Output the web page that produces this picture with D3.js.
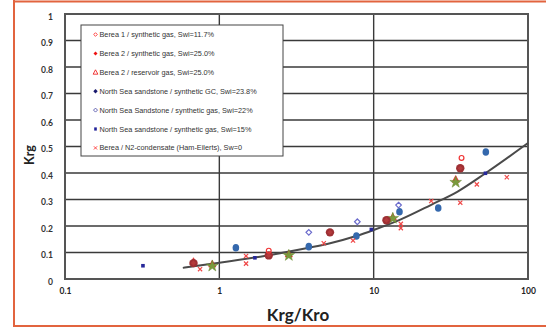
<!DOCTYPE html>
<html><head><meta charset="utf-8">
<script src="https://cdn.jsdelivr.net/npm/d3@7"></script>
<style>body{margin:0;background:#fff}svg{display:block}</style>
</head><body><svg id="c" width="546" height="329"></svg>
<script>
const xTicks = [0.1, 1, 10, 100];
const xTickLabels = ["0.1", "1", "10", "100"];
const yTicks = [0, 0.1, 0.2, 0.3, 0.4, 0.5, 0.6, 0.7, 0.8, 0.9, 1];
const yTickLabels = ["0", "0.1", "0.2", "0.3", "0.4", "0.5", "0.6", "0.7", "0.8", "0.9", "1"];
const legendLabels = [
  "Berea 1 / synthetic gas, Swi=11.7%",
  "Berea 2 / synthetic gas, Swi=25.0%",
  "Berea 2 / reservoir gas, Swi=25.0%",
  "North Sea sandstone / synthetic GC, Swi=23.8%",
  "North Sea Sandstone / synthetic gas, Swi=22%",
  "North Sea sandstone / synthetic gas, Swi=15%",
  "Berea / N2-condensate (Ham-Eilerts), Sw=0"
];
const berea1 = [[2.09, 0.107], [37.1, 0.457]];
const berea2 = [[0.68, 0.06], [2.09, 0.089], [5.21, 0.176], [12.1, 0.222], [36.4, 0.418]];
const berea2Res = [[0.68, 0.066], [0.90, 0.056], [2.82, 0.094], [13.3, 0.234], [34, 0.376]];
const stars = [[0.90, 0.049], [2.82, 0.089], [13.3, 0.229], [34, 0.365]];
const nsGC = [[1.28, 0.118], [3.8, 0.122], [7.73, 0.162], [14.7, 0.254], [26.2, 0.268], [53.3, 0.479]];
const ns22 = [[3.8, 0.176], [7.84, 0.216], [14.5, 0.279]];
const ns15 = [[0.32, 0.050], [1.70, 0.080], [9.66, 0.187], [53, 0.399]];
const bereaN2 = [[0.75, 0.037], [1.49, 0.087], [1.49, 0.058], [4.75, 0.135], [7.35, 0.145], [15.0, 0.208], [15.0, 0.192], [23.6, 0.294], [36.4, 0.288], [46.6, 0.357], [72.9, 0.384]];
const fitCurve = [[0.58, 0.042], [1, 0.061], [2, 0.088], [3.8, 0.118], [5, 0.132], [7.7, 0.162], [10, 0.185], [15, 0.225], [23.6, 0.28], [35, 0.33], [53, 0.399], [100, 0.513]];

const svg = d3.select("#c");
const L = 65, R = 528, T = 14, B = 279;
const x = d3.scaleLog().domain([0.1, 100]).range([L, R]);
const y = d3.scaleLinear().domain([0, 1]).range([B, T]);

// slide frame
const fc = "#e2643f";
svg.append("line").attr("x1", 14).attr("x2", 546).attr("y1", 1.5).attr("y2", 1.5).attr("stroke", fc).attr("stroke-width", 2);
svg.append("line").attr("x1", 14).attr("x2", 14).attr("y1", 0).attr("y2", 327).attr("stroke", fc).attr("stroke-width", 2);
svg.append("line").attr("x1", 14).attr("x2", 546).attr("y1", 326).attr("y2", 326).attr("stroke", fc).attr("stroke-width", 2);

// grid
const g = svg.append("g");
g.selectAll(".hg").data(yTicks.slice(1, -1)).join("line")
  .attr("x1", L).attr("x2", R).attr("y1", d => y(d)).attr("y2", d => y(d))
  .attr("stroke", "#3a3a3a").attr("stroke-width", 1.4);
g.selectAll(".vg").data(xTicks.slice(1, -1)).join("line")
  .attr("y1", T).attr("y2", B).attr("x1", d => x(d)).attr("x2", d => x(d))
  .attr("stroke", "#3a3a3a").attr("stroke-width", 1.4);
g.append("rect").attr("x", L).attr("y", T).attr("width", R - L).attr("height", B - T)
  .attr("fill", "none").attr("stroke", "#555").attr("stroke-width", 2);

const yAxis = d3.axisLeft(y).tickValues(yTicks).tickFormat((d, i) => yTickLabels[i]).tickSize(0).tickPadding(12);
svg.append("g").attr("transform", `translate(${L},0)`).call(yAxis)
  .call(a => a.select(".domain").remove())
  .selectAll("text").attr("font-family", "Lato, 'Open Sans', sans-serif").attr("font-weight", "bold")
  .attr("font-size", 8.5).attr("fill", "#333").attr("dy", "0.6em");
const xAxis = d3.axisBottom(x).tickValues(xTicks).tickFormat((d, i) => xTickLabels[i]).tickSize(0).tickPadding(9);
svg.append("g").attr("transform", `translate(0,${B})`).call(xAxis)
  .call(a => a.select(".domain").remove())
  .selectAll("text").attr("font-family", "Lato, 'Open Sans', sans-serif").attr("font-weight", "bold")
  .attr("font-size", 8.5).attr("fill", "#222");

svg.append("text").attr("x", 298).attr("y", 321).attr("text-anchor", "middle")
  .attr("font-family", "Lato, 'Open Sans', sans-serif").attr("font-weight", "bold").attr("font-size", 17)
  .attr("fill", "#222").text("Krg/Kro");
svg.append("text").attr("transform", "translate(34,155) rotate(-90)").attr("text-anchor", "middle")
  .attr("font-family", "Lato, 'Open Sans', sans-serif").attr("font-weight", "bold").attr("font-size", 12.5)
  .attr("fill", "#222").text("Krg");

svg.append("path").datum(fitCurve)
  .attr("d", d3.line().x(d => x(d[0])).y(d => y(d[1])).curve(d3.curveMonotoneX))
  .attr("fill", "none").attr("stroke", "#4a4a4a").attr("stroke-width", 2);

const P = svg.append("g");
const dia = s => `M0,${-s}L${s},0L0,${s}L${-s},0Z`;
const triP = s => `M0,${-s}L${s * 0.95},${s * 0.75}L${-s * 0.95},${s * 0.75}Z`;
const star = d3.symbol().type(d3.symbolStar).size(42);
const tr = d => `translate(${x(d[0])},${y(d[1])})`;

P.selectAll(".b2r").data(berea2Res).join("path").attr("transform", tr)
  .attr("d", triP(3.8)).attr("fill", "#e33").attr("stroke", "#d22").attr("stroke-width", 0.6);
P.selectAll(".st").data(stars).join("path").attr("transform", tr)
  .attr("d", star()).attr("fill", "#7a9a3c").attr("stroke", "#6b8a30").attr("stroke-width", 0.5);
P.selectAll(".b2").data(berea2).join("circle").attr("transform", tr)
  .attr("r", 4.2).attr("fill", "#9e3034");
P.selectAll(".b2d").data(berea2).join("path").attr("transform", tr)
  .attr("d", dia(2.6)).attr("fill", "#b43a3c");
P.selectAll(".gc").data(nsGC).join("ellipse").attr("transform", tr)
  .attr("rx", 3.3).attr("ry", 3.8).attr("fill", "#3468ad");
P.selectAll(".n22").data(ns22).join("path").attr("transform", tr)
  .attr("d", dia(2.8)).attr("fill", "none").attr("stroke", "#6a6acc").attr("stroke-width", 1.2);
P.selectAll(".n15").data(ns15).join("rect").attr("transform", tr)
  .attr("x", -1.8).attr("y", -1.8).attr("width", 3.6).attr("height", 3.6).attr("fill", "#26289a");
P.selectAll(".b1").data(berea1).join("circle").attr("transform", tr)
  .attr("r", 2.4).attr("fill", "none").attr("stroke", "#f03434").attr("stroke-width", 1.2);
P.selectAll(".n2").data(bereaN2).join("path").attr("transform", tr)
  .attr("d", "M-2.1,-2.1L2.1,2.1M-2.1,2.1L2.1,-2.1").attr("stroke", "#f04848").attr("stroke-width", 1.2).attr("fill", "none");

// legend
const lg = svg.append("g");
lg.append("rect").attr("x", 81).attr("y", 25).attr("width", 202).attr("height", 131)
  .attr("fill", "#fff").attr("stroke", "#444").attr("stroke-width", 1);
const ly = i => 34.5 + 18.9 * i;
const lmx = 95.5;
const lm = [
  s => s.append("path").attr("d", dia(1.8)).attr("fill", "none").attr("stroke", "#f33").attr("stroke-width", 0.9),
  s => s.append("path").attr("d", dia(2)).attr("fill", "#e11"),
  s => s.append("path").attr("d", triP(2.5)).attr("fill", "none").attr("stroke", "#e22").attr("stroke-width", 0.9),
  s => s.append("path").attr("d", dia(2.2)).attr("fill", "#1a1a6e"),
  s => s.append("path").attr("d", dia(2)).attr("fill", "none").attr("stroke", "#5555aa").attr("stroke-width", 0.9),
  s => s.append("rect").attr("x", -1.3).attr("y", -1.6).attr("width", 2.6).attr("height", 3.2).attr("fill", "#222299"),
  s => s.append("path").attr("d", "M-1.6,-1.6L1.6,1.6M-1.6,1.6L1.6,-1.6").attr("stroke", "#f44").attr("stroke-width", 1)
];
legendLabels.forEach((t, i) => {
  const r = lg.append("g").attr("transform", `translate(${lmx},${ly(i)})`);
  lm[i](r);
  lg.append("text").attr("x", 99.5).attr("y", ly(i)).attr("dy", "0.35em")
    .attr("font-family", "'Liberation Sans', Arial, sans-serif").attr("font-size", 7.3)
    .attr("fill", "#333").text(t);
});
</script></body></html>
